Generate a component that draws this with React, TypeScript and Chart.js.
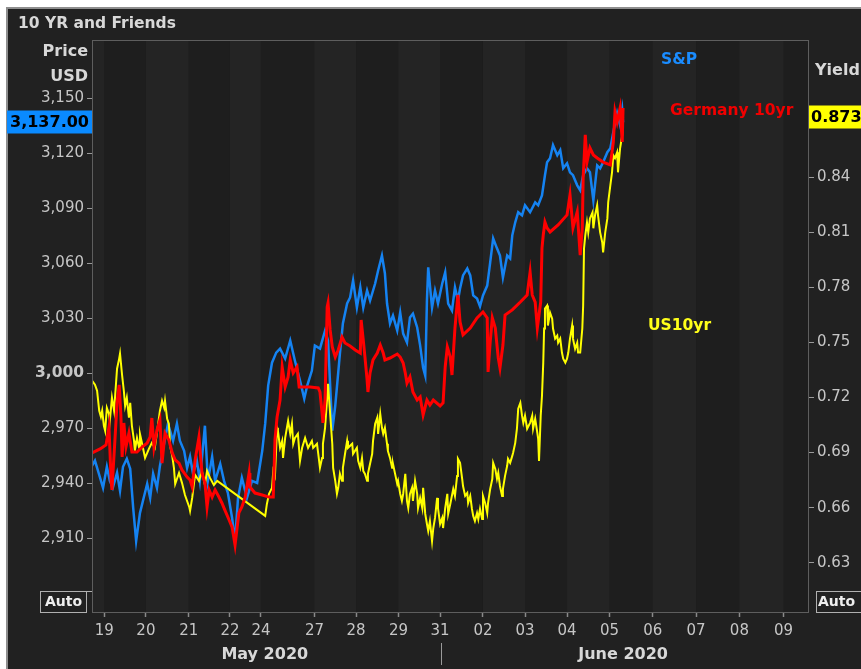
import { useEffect, useRef } from "react";
import { Chart, registerables } from "chart.js";

Chart.register(...registerables);

const W = 861;
const H = 669;
const REG = '"DejaVu Sans", "Noto Sans", sans-serif';
const BG = "#212121";
const BAND_LIGHT = "#242424";
const BAND_DARK = "#1e1e1e";
const TICK_COLOR = "#c6c6c6";
const LABEL_COLOR = "#d8d8d8";

// x axis: compressed trading-day index (May 19 = 0)
const X_MIN = -0.29;
const X_MAX = 16.6;
const xTickPos = [0, 0.98, 1.99, 2.96, 3.69, 4.95, 5.93, 6.93, 7.91, 8.92, 9.91, 10.9, 11.9, 12.92, 13.94, 14.96, 16.0];
const xTickLabels = ["19", "20", "21", "22", "24", "27", "28", "29", "31", "02", "03", "04", "05", "06", "07", "08", "09"];
const monthLabels = ["May 2020", "June 2020"];
const monthCenters = [3.78, 12.22];
const monthSeparator = 7.92;

// S&P (left axis, USD)
const SP_MIN = 2869.2;
const SP_MAX = 3181.9;
const spTicks = [2910, 2940, 2970, 3000, 3030, 3060, 3090, 3120, 3150];
const spPoints = [
  [-0.29, 2949.5], [-0.22, 2952.3], [-0.12, 2944.6], [-0.03, 2937.5], [0.06, 2949.0], [0.13, 2941.3],
  [0.2, 2937.5], [0.3, 2945.7], [0.37, 2935.9], [0.44, 2949.0], [0.53, 2953.4], [0.61, 2947.9],
  [0.68, 2926.6], [0.75, 2908.5], [0.84, 2923.8], [0.91, 2930.4], [1.01, 2939.7], [1.08, 2932.0],
  [1.15, 2945.2], [1.24, 2937.5], [1.31, 2949.5], [1.43, 2964.3], [1.5, 2972.5], [1.62, 2963.2],
  [1.71, 2972.5], [1.78, 2963.2], [1.88, 2957.7], [1.95, 2948.4], [2.02, 2954.5], [2.09, 2945.2],
  [2.18, 2952.3], [2.25, 2941.3], [2.37, 2971.4], [2.44, 2941.3], [2.54, 2954.5], [2.61, 2941.3],
  [2.73, 2950.6], [2.82, 2941.3], [2.91, 2934.8], [3.01, 2921.1], [3.08, 2908.5], [3.15, 2932.0],
  [3.24, 2943.0], [3.36, 2932.0], [3.48, 2941.3], [3.6, 2940.2], [3.72, 2957.7], [3.79, 2972.5],
  [3.86, 2993.3], [3.95, 3005.8], [4.05, 3011.3], [4.14, 3013.5], [4.26, 3008.0], [4.38, 3017.9],
  [4.49, 3006.9], [4.61, 2996.0], [4.71, 2986.2], [4.78, 2993.3], [4.89, 3001.5], [4.96, 3015.1],
  [5.08, 3013.5], [5.2, 3023.3], [5.27, 3017.9], [5.37, 2968.7], [5.44, 2982.3], [5.55, 3010.8],
  [5.62, 3027.2], [5.72, 3038.1], [5.79, 3041.4], [5.86, 3050.7], [5.95, 3035.9], [6.03, 3046.9],
  [6.1, 3035.9], [6.19, 3045.2], [6.26, 3039.7], [6.38, 3049.0], [6.45, 3056.1], [6.54, 3064.3],
  [6.61, 3054.5], [6.66, 3038.1], [6.73, 3027.2], [6.8, 3031.5], [6.9, 3023.3], [6.97, 3033.2],
  [7.04, 3021.7], [7.13, 3016.8], [7.2, 3030.5], [7.27, 3032.6], [7.37, 3025.0], [7.44, 3015.1],
  [7.51, 3003.1], [7.56, 2998.7], [7.6, 3039.7], [7.63, 3057.8], [7.72, 3035.9], [7.79, 3045.2],
  [7.86, 3038.1], [7.96, 3049.0], [8.03, 3055.1], [8.1, 3038.1], [8.19, 3034.3], [8.26, 3046.9],
  [8.33, 3039.7], [8.38, 3046.3], [8.45, 3053.4], [8.55, 3057.2], [8.62, 3053.4], [8.69, 3042.5],
  [8.78, 3040.8], [8.85, 3036.5], [8.92, 3042.5], [9.02, 3047.9], [9.09, 3060.5], [9.16, 3073.6],
  [9.25, 3068.2], [9.32, 3064.3], [9.39, 3052.3], [9.49, 3064.3], [9.56, 3062.7], [9.61, 3075.3],
  [9.68, 3082.4], [9.75, 3087.9], [9.84, 3086.2], [9.91, 3091.7], [10.03, 3087.9], [10.15, 3093.3],
  [10.22, 3091.7], [10.31, 3097.1], [10.38, 3108.1], [10.43, 3115.2], [10.5, 3117.4], [10.57, 3124.5],
  [10.67, 3119.0], [10.74, 3121.8], [10.81, 3111.9], [10.9, 3114.6], [10.97, 3109.7], [11.04, 3108.1],
  [11.14, 3102.6], [11.21, 3099.9], [11.28, 3108.1], [11.37, 3111.9], [11.44, 3109.7], [11.52, 3094.4],
  [11.61, 3113.5], [11.68, 3111.9], [11.75, 3115.2], [11.85, 3120.7], [11.92, 3122.8], [11.99, 3131.6],
  [12.08, 3142.0], [12.15, 3135.4], [12.2, 3143.6], [12.22, 3137.0],
];

// Germany 10yr yield (hidden axis, %)
const DE_MIN = -0.54;
const DE_MAX = -0.24;
const dePoints = [
  [-0.29, -0.4562], [-0.1, -0.4541], [0.04, -0.452], [0.11, -0.4426], [0.16, -0.4704], [0.18, -0.4756],
  [0.25, -0.4494], [0.3, -0.43], [0.35, -0.4206], [0.39, -0.4363], [0.42, -0.4583], [0.46, -0.4405],
  [0.51, -0.4531], [0.58, -0.4458], [0.65, -0.4557], [0.77, -0.4557], [0.89, -0.4531], [1.01, -0.451],
  [1.08, -0.4478], [1.12, -0.4379], [1.17, -0.4531], [1.24, -0.4442], [1.31, -0.4389], [1.36, -0.4615],
  [1.43, -0.4458], [1.52, -0.4494], [1.6, -0.4562], [1.67, -0.4599], [1.76, -0.4615], [1.83, -0.4651],
  [1.95, -0.4688], [2.02, -0.4704], [2.07, -0.474], [2.14, -0.4599], [2.23, -0.4478], [2.3, -0.4667],
  [2.37, -0.4719], [2.42, -0.4845], [2.47, -0.4756], [2.54, -0.4793], [2.61, -0.4756], [2.7, -0.4793],
  [2.77, -0.4824], [2.84, -0.4861], [2.94, -0.4913], [3.01, -0.495], [3.08, -0.5044], [3.17, -0.4876],
  [3.24, -0.4845], [3.32, -0.4793], [3.41, -0.4667], [3.43, -0.474], [3.55, -0.4772], [3.72, -0.4782],
  [3.88, -0.4793], [3.98, -0.4793], [4.02, -0.4494], [4.07, -0.4374], [4.14, -0.4285], [4.19, -0.4112],
  [4.26, -0.4217], [4.33, -0.4164], [4.38, -0.4075], [4.45, -0.4143], [4.54, -0.4112], [4.59, -0.4217],
  [4.85, -0.4217], [5.04, -0.4222], [5.08, -0.4243], [5.13, -0.4353], [5.15, -0.4405], [5.2, -0.4285],
  [5.25, -0.3798], [5.27, -0.3777], [5.32, -0.3918], [5.37, -0.4007], [5.44, -0.406], [5.51, -0.4023],
  [5.6, -0.3955], [5.67, -0.3986], [5.79, -0.4002], [5.91, -0.4023], [6.03, -0.4039], [6.05, -0.3866],
  [6.1, -0.3971], [6.14, -0.406], [6.19, -0.418], [6.21, -0.4243], [6.26, -0.4143], [6.33, -0.4075],
  [6.43, -0.4039], [6.5, -0.3997], [6.57, -0.4039], [6.61, -0.4075], [6.73, -0.4065], [6.9, -0.4044],
  [6.97, -0.406], [7.04, -0.4091], [7.09, -0.4143], [7.13, -0.4196], [7.2, -0.4164], [7.27, -0.4243],
  [7.37, -0.4285], [7.44, -0.4269], [7.51, -0.4363], [7.6, -0.4285], [7.67, -0.4311], [7.75, -0.4285],
  [7.91, -0.4316], [7.98, -0.43], [8.03, -0.4112], [8.08, -0.4007], [8.15, -0.406], [8.19, -0.4154],
  [8.26, -0.3908], [8.33, -0.3735], [8.38, -0.3876], [8.45, -0.3944], [8.62, -0.3908], [8.78, -0.3855],
  [8.92, -0.3824], [9.02, -0.3855], [9.04, -0.4138], [9.09, -0.3981], [9.14, -0.3855], [9.21, -0.3908],
  [9.28, -0.4065], [9.32, -0.4117], [9.39, -0.3997], [9.44, -0.384], [9.61, -0.3813], [9.8, -0.3772],
  [9.96, -0.3735], [10.03, -0.3615], [10.08, -0.3735], [10.15, -0.3772], [10.2, -0.3908], [10.28, -0.3772],
  [10.31, -0.3489], [10.34, -0.3421], [10.38, -0.3353], [10.43, -0.3384], [10.5, -0.3405], [10.69, -0.3368],
  [10.9, -0.3316], [10.97, -0.3211], [11.04, -0.3384], [11.14, -0.33], [11.21, -0.3526], [11.26, -0.3384],
  [11.28, -0.3122], [11.33, -0.2897], [11.37, -0.3039], [11.44, -0.2965], [11.52, -0.3002], [11.61, -0.3018],
  [11.75, -0.3039], [11.92, -0.3054], [11.99, -0.2934], [12.03, -0.2777], [12.08, -0.2829], [12.15, -0.2756],
  [12.2, -0.2934], [12.22, -0.2756],
];

// US 10yr yield (right axis, %)
const US_MIN = 0.6026;
const US_MAX = 0.9148;
const usTicks = [0.63, 0.66, 0.69, 0.72, 0.75, 0.78, 0.81, 0.84, 0.87];
const usPoints = [
  [-0.29, 0.7292], [-0.22, 0.727], [-0.17, 0.7237], [-0.12, 0.7128], [-0.08, 0.7095], [-0.05, 0.7128],
  [-0.01, 0.7046], [0.02, 0.7019], [0.06, 0.7144], [0.11, 0.7111], [0.13, 0.7073], [0.18, 0.7199],
  [0.23, 0.7128], [0.3, 0.7357], [0.35, 0.7412], [0.37, 0.7439], [0.42, 0.7319], [0.46, 0.7237],
  [0.49, 0.7155], [0.53, 0.7199], [0.58, 0.709], [0.61, 0.7171], [0.65, 0.7046], [0.7, 0.6964],
  [0.72, 0.6909], [0.77, 0.698], [0.82, 0.6926], [0.84, 0.7002], [0.89, 0.6948], [0.96, 0.6871],
  [1.05, 0.692], [1.12, 0.6953], [1.19, 0.6926], [1.24, 0.7008], [1.31, 0.7128], [1.36, 0.7182],
  [1.41, 0.7144], [1.43, 0.7182], [1.48, 0.7084], [1.52, 0.7057], [1.55, 0.6937], [1.6, 0.6882],
  [1.64, 0.6817], [1.67, 0.6729], [1.76, 0.6789], [1.83, 0.6735], [1.9, 0.6669], [2.0, 0.6604],
  [2.02, 0.6582], [2.07, 0.6653], [2.11, 0.6729], [2.14, 0.6778], [2.23, 0.6746], [2.3, 0.68],
  [2.37, 0.6724], [2.42, 0.68], [2.49, 0.6762], [2.58, 0.6724], [2.66, 0.6746], [3.79, 0.6555],
  [3.83, 0.662], [3.88, 0.6675], [3.95, 0.6708], [3.98, 0.68], [4.02, 0.6773], [4.07, 0.7035],
  [4.09, 0.7019], [4.14, 0.6926], [4.19, 0.6964], [4.21, 0.6871], [4.26, 0.698], [4.33, 0.7073],
  [4.38, 0.7002], [4.42, 0.7057], [4.45, 0.6948], [4.49, 0.698], [4.56, 0.7002], [4.61, 0.6855],
  [4.66, 0.6926], [4.73, 0.698], [4.8, 0.6926], [4.89, 0.6964], [4.92, 0.6926], [5.01, 0.6948],
  [5.04, 0.6893], [5.08, 0.6817], [5.13, 0.6871], [5.15, 0.6948], [5.2, 0.7035], [5.25, 0.7199],
  [5.27, 0.7275], [5.32, 0.7111], [5.37, 0.6948], [5.39, 0.6817], [5.44, 0.6746], [5.48, 0.6675],
  [5.51, 0.6708], [5.55, 0.6784], [5.6, 0.6746], [5.62, 0.6817], [5.67, 0.6893], [5.72, 0.6964],
  [5.74, 0.6926], [5.84, 0.6948], [5.86, 0.6893], [5.95, 0.6926], [5.98, 0.6855], [6.03, 0.6817],
  [6.07, 0.6871], [6.1, 0.68], [6.14, 0.6784], [6.19, 0.6746], [6.21, 0.6784], [6.26, 0.6839],
  [6.31, 0.6893], [6.33, 0.6964], [6.38, 0.7057], [6.43, 0.709], [6.45, 0.7002], [6.5, 0.7111],
  [6.54, 0.7035], [6.57, 0.7002], [6.61, 0.7035], [6.66, 0.6948], [6.68, 0.6909], [6.73, 0.6871],
  [6.78, 0.6817], [6.8, 0.6839], [6.85, 0.6784], [6.9, 0.6729], [6.92, 0.6746], [6.97, 0.6675],
  [7.01, 0.6637], [7.04, 0.6675], [7.09, 0.6784], [7.13, 0.6637], [7.16, 0.6598], [7.2, 0.6675],
  [7.25, 0.6708], [7.27, 0.6637], [7.32, 0.6746], [7.37, 0.6675], [7.39, 0.6598], [7.44, 0.6653],
  [7.49, 0.6598], [7.51, 0.6708], [7.56, 0.6566], [7.6, 0.6511], [7.63, 0.6473], [7.67, 0.6527],
  [7.72, 0.6418], [7.75, 0.6489], [7.79, 0.6544], [7.84, 0.6653], [7.86, 0.6598], [7.91, 0.6511],
  [7.96, 0.6544], [7.98, 0.6489], [8.03, 0.6598], [8.08, 0.6675], [8.1, 0.6566], [8.15, 0.662],
  [8.22, 0.6702], [8.26, 0.6664], [8.31, 0.6773], [8.33, 0.6866], [8.38, 0.6844], [8.43, 0.6757],
  [8.45, 0.6718], [8.5, 0.6664], [8.55, 0.668], [8.57, 0.6626], [8.62, 0.6664], [8.66, 0.6593],
  [8.69, 0.6555], [8.73, 0.6527], [8.78, 0.6571], [8.81, 0.6538], [8.85, 0.6593], [8.9, 0.6538],
  [8.92, 0.6664], [8.97, 0.6626], [9.02, 0.6571], [9.04, 0.6626], [9.09, 0.6702], [9.14, 0.6757],
  [9.16, 0.6844], [9.21, 0.6811], [9.25, 0.6757], [9.28, 0.6789], [9.32, 0.6718], [9.37, 0.6664],
  [9.39, 0.6702], [9.44, 0.6773], [9.49, 0.6828], [9.51, 0.6866], [9.56, 0.6844], [9.61, 0.6882],
  [9.63, 0.6899], [9.68, 0.6953], [9.72, 0.703], [9.75, 0.7139], [9.8, 0.7171], [9.84, 0.7101],
  [9.87, 0.7062], [9.91, 0.7101], [9.96, 0.703], [10.03, 0.7062], [10.08, 0.7101], [10.1, 0.703],
  [10.15, 0.7084], [10.2, 0.7008], [10.22, 0.6975], [10.24, 0.6855], [10.28, 0.7101], [10.31, 0.721],
  [10.34, 0.739], [10.36, 0.7576], [10.38, 0.7685], [10.43, 0.7701], [10.45, 0.7592], [10.5, 0.7663],
  [10.55, 0.763], [10.57, 0.7576], [10.62, 0.7521], [10.67, 0.7537], [10.69, 0.7499], [10.74, 0.7521],
  [10.78, 0.7445], [10.81, 0.7412], [10.86, 0.739], [10.9, 0.7412], [10.93, 0.7445], [10.97, 0.7521],
  [11.02, 0.7592], [11.04, 0.7521], [11.09, 0.7466], [11.14, 0.7499], [11.16, 0.7445], [11.21, 0.7445],
  [11.26, 0.7576], [11.28, 0.7701], [11.3, 0.8012], [11.33, 0.8083], [11.37, 0.8154], [11.4, 0.81],
  [11.44, 0.8176], [11.5, 0.8209], [11.52, 0.8122], [11.56, 0.8193], [11.61, 0.8247], [11.63, 0.8193],
  [11.68, 0.81], [11.73, 0.8045], [11.75, 0.7991], [11.8, 0.81], [11.85, 0.8176], [11.87, 0.8264],
  [11.92, 0.8356], [11.96, 0.8427], [11.99, 0.852], [12.03, 0.8504], [12.08, 0.8536], [12.1, 0.8427],
  [12.15, 0.8558], [12.2, 0.8629], [12.22, 0.873],
];

const SP_COLOR = "#1583f2";
const DE_COLOR = "#ff0000";
const US_COLOR = "#ffff00";

const toXY = (arr: number[][]) => arr.map(([x, y]) => ({ x, y }));

const decor = {
  id: "decor",
  beforeDraw(chart: any) {
    const { ctx, chartArea: a, scales } = chart;
    ctx.save();
    ctx.fillStyle = "#ffffff";
    ctx.fillRect(0, 0, W, H);
    ctx.fillStyle = "#8e8e8e";
    ctx.fillRect(6, 7, W - 6, H - 7);
    ctx.fillStyle = BG;
    ctx.fillRect(8, 9, W - 8, H - 9);
    const xs = scales.x;
    const edges = [a.left, ...xTickPos.map((v) => xs.getPixelForValue(v)), a.right];
    for (let i = 0; i < edges.length - 1; i++) {
      ctx.fillStyle = i % 2 === 0 ? BAND_LIGHT : BAND_DARK;
      ctx.fillRect(edges[i], a.top, edges[i + 1] - edges[i], a.bottom - a.top);
    }
    ctx.restore();
  },
  afterDraw(chart: any) {
    const { ctx, chartArea: a, scales } = chart;
    ctx.save();
    // plot frame
    ctx.strokeStyle = "#5e5e5e";
    ctx.lineWidth = 1;
    ctx.strokeRect(a.left + 0.5, a.top + 0.5, a.right - a.left - 1, a.bottom - a.top - 1);

    const bold = (size: number) => `bold ${size}px ${REG}`;
    ctx.textBaseline = "middle";

    // title
    ctx.fillStyle = LABEL_COLOR;
    ctx.font = bold(15.5);
    ctx.textAlign = "left";
    ctx.fillText("10 YR and Friends", 18, 24);

    // axis unit labels
    ctx.font = bold(16);
    ctx.textAlign = "right";
    ctx.fillText("Price", 88, 52);
    ctx.fillText("USD", 88, 77);
    ctx.textAlign = "left";
    ctx.fillText("Yield", 815, 71);

    // series labels
    ctx.font = bold(15.5);
    ctx.fillStyle = "#1a8cff";
    ctx.fillText("S&P", 661, 60);
    ctx.fillStyle = "#f00000";
    ctx.fillText("Germany 10yr", 670, 111);
    ctx.fillStyle = "#ffff1a";
    ctx.fillText("US10yr", 648, 326);

    // last value tags
    const lastSp = spPoints[spPoints.length - 1][1];
    const ySp = scales.ySP.getPixelForValue(lastSp);
    ctx.fillStyle = "#0a8aff";
    ctx.fillRect(7, Math.round(ySp) - 11.5, 85, 23);
    ctx.fillStyle = "#000000";
    ctx.font = bold(16);
    ctx.textAlign = "center";
    ctx.fillText(lastSp.toLocaleString("en-US", { minimumFractionDigits: 2, maximumFractionDigits: 2 }), 49.5, Math.round(ySp) + 0.5);

    const lastUs = usPoints[usPoints.length - 1][1];
    const yUs = scales.yUS.getPixelForValue(lastUs);
    ctx.fillStyle = "#ffff00";
    ctx.fillRect(809, Math.round(yUs) - 11.5, 60, 23);
    ctx.fillStyle = "#000000";
    ctx.textAlign = "left";
    ctx.fillText(lastUs.toFixed(3), 811, Math.round(yUs) + 0.5);

    // Auto boxes
    ctx.font = bold(14);
    ctx.strokeStyle = "#b0b0b0";
    ctx.lineWidth = 1;
    ctx.strokeRect(40.5, 591.5, 46, 21);
    ctx.strokeRect(816.5, 591.5, 60, 21);
    ctx.beginPath();
    ctx.moveTo(86.5, 591.5);
    ctx.lineTo(92, 591.5);
    ctx.stroke();
    ctx.fillStyle = "#eeeeee";
    ctx.textAlign = "center";
    ctx.fillText("Auto", 63.5, 602.5);
    ctx.textAlign = "left";
    ctx.fillText("Auto", 818, 602.5);

    // month labels
    ctx.font = bold(16);
    ctx.fillStyle = LABEL_COLOR;
    ctx.textAlign = "center";
    monthLabels.forEach((m, i) => {
      ctx.fillText(m, scales.x.getPixelForValue(monthCenters[i]), 655);
    });
    const sx = Math.round(scales.x.getPixelForValue(monthSeparator)) + 0.5;
    ctx.strokeStyle = "#9a9a9a";
    ctx.beginPath();
    ctx.moveTo(sx, 643);
    ctx.lineTo(sx, 665);
    ctx.stroke();
    ctx.restore();
  },
};

export default function App() {
  const ref = useRef<HTMLCanvasElement>(null);
  useEffect(() => {
    const canvas = ref.current;
    if (!canvas) return;
    const chart = new Chart(canvas, {
      type: "line",
      data: {
        datasets: [
          {
            label: "Germany 10yr",
            data: toXY(dePoints),
            yAxisID: "yDE",
            borderColor: DE_COLOR,
            borderWidth: 3,
            pointRadius: 0,
            tension: 0,
            borderJoinStyle: "miter",
          },
          {
            label: "US10yr",
            data: toXY(usPoints),
            yAxisID: "yUS",
            borderColor: US_COLOR,
            borderWidth: 2,
            pointRadius: 0,
            tension: 0,
            borderJoinStyle: "miter",
          },
          {
            label: "S&P",
            data: toXY(spPoints),
            yAxisID: "ySP",
            borderColor: SP_COLOR,
            borderWidth: 2.5,
            pointRadius: 0,
            tension: 0,
            borderJoinStyle: "miter",
          },
        ],
      } as any,
      options: {
        responsive: false,
        animation: false,
        devicePixelRatio: 1,
        layout: { padding: { top: 40, left: 0, right: 0, bottom: 0 } },
        plugins: {
          legend: { display: false },
          tooltip: { enabled: false },
        },
        scales: {
          x: {
            type: "linear",
            position: "bottom",
            min: X_MIN,
            max: X_MAX,
            afterBuildTicks: (s: any) => {
              s.ticks = xTickPos.map((v) => ({ value: v }));
            },
            afterFit: (s: any) => {
              s.height = 56;
            },
            ticks: {
              autoSkip: false,
              maxRotation: 0,
              minRotation: 0,
              padding: 5,
              color: TICK_COLOR,
              font: { family: REG, size: 15 },
              callback: (_v: any, i: number) => xTickLabels[i],
            },
            grid: { drawOnChartArea: false, drawTicks: true, tickLength: 4, tickColor: "#8a8a8a", tickWidth: 1.5 },
            border: { display: false },
          },
          ySP: {
            type: "linear",
            position: "left",
            min: SP_MIN,
            max: SP_MAX,
            afterBuildTicks: (s: any) => {
              s.ticks = spTicks.map((v) => ({ value: v }));
            },
            afterFit: (s: any) => {
              s.width = 92;
            },
            ticks: {
              padding: 3,
              color: TICK_COLOR,
              font: (c: any) => ({
                family: REG,
                size: c.tick && c.tick.value === 3000 ? 15.5 : 15,
                weight: c.tick && c.tick.value === 3000 ? "bold" : "normal",
              }),
              callback: (v: any) => Number(v).toLocaleString("en-US"),
            },
            grid: { drawOnChartArea: false, drawTicks: true, tickLength: 5, tickColor: "#9a9a9a" },
            border: { display: false },
          },
          yUS: {
            type: "linear",
            position: "right",
            min: US_MIN,
            max: US_MAX,
            afterBuildTicks: (s: any) => {
              s.ticks = usTicks.map((v) => ({ value: v }));
            },
            afterFit: (s: any) => {
              s.width = 52;
            },
            ticks: {
              padding: 3,
              color: TICK_COLOR,
              font: { family: REG, size: 15 },
              callback: (v: any) => Number(v).toFixed(2),
            },
            grid: { drawOnChartArea: false, drawTicks: true, tickLength: 5, tickColor: "#9a9a9a" },
            border: { display: false },
          },
          yDE: {
            type: "linear",
            display: false,
            min: DE_MIN,
            max: DE_MAX,
          },
        },
      } as any,
      plugins: [decor],
    });
    return () => chart.destroy();
  }, []);
  return (
    <canvas
      ref={ref}
      width={W}
      height={H}
      style={{ position: "fixed", left: 0, top: 0, width: W, height: H, display: "block" }}
    />
  );
}
